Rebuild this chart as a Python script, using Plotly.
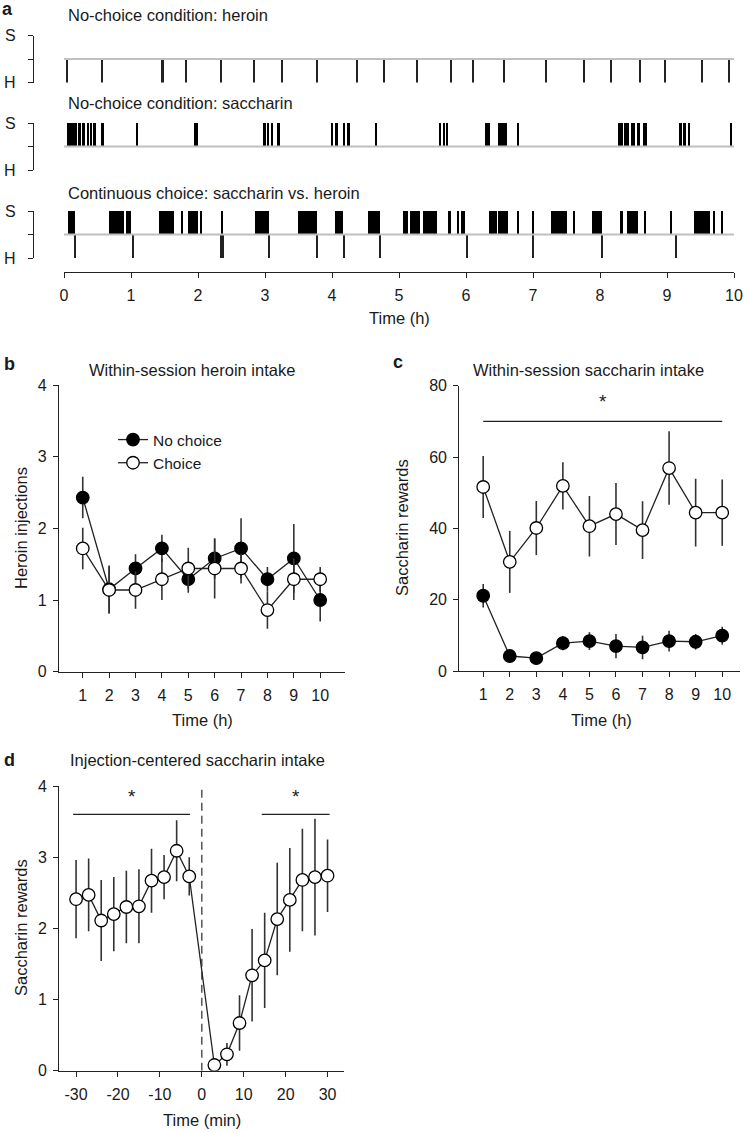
import plotly.graph_objects as go

W, H = 748, 1133


def px(x):
    return x / W


def py(y):
    return 1 - y / H


# ---- panel a: event records of one rat (time in hours) ----
heroin_nochoice = [0.04, 0.56, 1.47, 1.82, 2.35, 2.83, 3.26, 3.77, 4.38, 4.78, 5.27,
                   5.78, 6.10, 6.57, 7.20, 7.76, 8.16, 8.60, 8.97, 9.52, 9.93]

sacch_nochoice_start = [0.04, 0.21, 0.27, 0.34, 0.40, 0.46, 0.55, 1.09, 1.94, 2.97, 3.03,
                        3.10, 3.18, 3.99, 4.04, 4.16, 4.22, 4.64, 5.61, 5.67, 5.72, 6.28,
                        6.48, 6.76, 8.27, 8.36, 8.42, 8.46, 8.55, 8.64, 9.18, 9.24, 9.31, 9.94]
sacch_nochoice_end = [0.19, 0.25, 0.31, 0.37, 0.42, 0.46, 0.60, 1.09, 2.00, 3.01, 3.06,
                      3.12, 3.22, 4.01, 4.09, 4.19, 4.27, 4.67, 5.61, 5.67, 5.72, 6.36,
                      6.61, 6.79, 8.34, 8.40, 8.43, 8.52, 8.60, 8.70, 9.22, 9.28, 9.34, 9.97]

sacch_choice_start = [0.06, 0.67, 0.93, 1.42, 1.76, 1.85, 2.03, 2.34, 2.85, 3.49, 3.76,
                      4.04, 4.54, 5.06, 5.16, 5.36, 5.73, 5.88, 5.93, 6.34, 6.48, 6.78,
                      7.00, 7.27, 7.61, 7.88, 8.30, 8.40, 8.66, 9.06, 9.40, 9.69, 9.82]
sacch_choice_end = [0.16, 0.90, 1.00, 1.64, 1.76, 2.00, 2.06, 2.37, 3.06, 3.75, 3.76,
                    4.16, 4.72, 5.13, 5.31, 5.57, 5.78, 5.90, 5.99, 6.46, 6.63, 6.79,
                    7.00, 7.51, 7.61, 8.03, 8.34, 8.57, 8.69, 9.07, 9.64, 9.72, 9.84]
heroin_choice = [0.16, 1.03, 2.34, 2.38, 3.06, 3.77, 4.18, 4.72, 6.01, 7.00, 8.03, 9.13]

# ---- panel b: heroin injections per hour ----
hours = [1, 2, 3, 4, 5, 6, 7, 8, 9, 10]
b_nochoice = [2.43, 1.15, 1.44, 1.72, 1.29, 1.58, 1.72, 1.29, 1.58, 1.00]
b_nochoice_sem = [0.29, 0.33, 0.20, 0.19, 0.19, 0.28, 0.42, 0.17, 0.48, 0.30]
b_choice = [1.72, 1.14, 1.14, 1.29, 1.44, 1.44, 1.44, 0.86, 1.29, 1.29]
b_choice_sem = [0.29, 0.33, 0.26, 0.29, 0.29, 0.42, 0.21, 0.26, 0.29, 0.17]

# ---- panel c: saccharin rewards per hour ----
c_choice = [51.6, 30.6, 40.1, 51.9, 40.6, 44.0, 39.5, 56.9, 44.4, 44.4]
c_choice_sem = [8.7, 8.7, 7.6, 6.6, 8.5, 8.7, 8.1, 10.3, 9.5, 9.3]
c_nochoice = [21.1, 4.2, 3.6, 7.8, 8.4, 7.0, 6.6, 8.4, 8.2, 9.9]
c_nochoice_sem = [3.3, 1.5, 1.0, 2.0, 2.5, 3.4, 3.3, 2.9, 2.2, 2.5]
c_sig_x = [1, 10]
c_sig_y = 70
c_star_y = 75

# ---- panel d: injection-centered saccharin intake ----
d_minutes = [-30, -27, -24, -21, -18, -15, -12, -9, -6, -3,
             3, 6, 9, 12, 15, 18, 21, 24, 27, 30]
d_mean = [2.41, 2.47, 2.11, 2.20, 2.30, 2.31, 2.67, 2.72, 3.09, 2.73,
          0.08, 0.23, 0.67, 1.34, 1.55, 2.13, 2.40, 2.68, 2.72, 2.74]
d_sem = [0.55, 0.51, 0.57, 0.52, 0.51, 0.52, 0.45, 0.31, 0.43, 0.27,
         0.05, 0.16, 0.39, 0.65, 0.67, 0.79, 0.73, 0.72, 0.82, 0.51]
d_ticks = [-30, -20, -10, 0, 10, 20, 30]
d_sig_left = [-30.7, -2.8]
d_sig_right = [14.3, 30.5]
d_sig_y = 3.6
d_star_y = 3.83

FONT = "Liberation Sans, Arial, sans-serif"
INK = "#1a1a1a"
TXT = 16.5
TICK = 16

fig = go.Figure()


def burst_bars(starts, ends, xa, ya):
    mids = [(s + e) / 2 for s, e in zip(starts, ends)]
    widths = [max(e - s, 0.025) for s, e in zip(starts, ends)]
    return go.Bar(x=mids, y=[1] * len(mids), base=0, width=widths,
                  marker=dict(color="black", line=dict(width=0)),
                  xaxis=xa, yaxis=ya, showlegend=False, hoverinfo="skip")


def tick_bars(times, xa, ya):
    return go.Bar(x=times, y=[-1] * len(times), base=0, width=[0.03] * len(times),
                  marker=dict(color="#222", line=dict(width=0)),
                  xaxis=xa, yaxis=ya, showlegend=False, hoverinfo="skip")


def baseline(xa, ya):
    return go.Scatter(x=[0, 10], y=[0, 0], mode="lines",
                      line=dict(color="#c0c0c0", width=2),
                      xaxis=xa, yaxis=ya, showlegend=False, hoverinfo="skip")


# row 1, 2, 3 of panel a
fig.add_trace(baseline("x", "y"))
fig.add_trace(tick_bars(heroin_nochoice, "x", "y"))
fig.add_trace(baseline("x2", "y2"))
fig.add_trace(burst_bars(sacch_nochoice_start, sacch_nochoice_end, "x2", "y2"))
fig.add_trace(baseline("x3", "y3"))
fig.add_trace(burst_bars(sacch_choice_start, sacch_choice_end, "x3", "y3"))
fig.add_trace(tick_bars(heroin_choice, "x3", "y3"))
# holder for the shared time axis of panel a
fig.add_trace(go.Scatter(x=[0, 10], y=[0, 0], mode="lines", line=dict(width=0),
                         opacity=0, xaxis="x4", yaxis="y4", showlegend=False,
                         hoverinfo="skip"))

ERR = dict(type="data", width=0, thickness=1.6, color="#333")
LINE = dict(color="#222", width=1.3)


def marker(filled):
    return dict(symbol="circle", size=12.5, color="black" if filled else "white",
                line=dict(color="black", width=1.3))


def series(x, y, sem, filled, xa, ya):
    return go.Scatter(
        x=x, y=y, mode="lines+markers", error_y=dict(ERR, array=sem),
        line=LINE, marker=marker(filled),
        xaxis=xa, yaxis=ya, showlegend=False, hoverinfo="skip")


# panel b
fig.add_trace(series(hours, b_nochoice, b_nochoice_sem, True, "x5", "y5"))
fig.add_trace(series(hours, b_choice, b_choice_sem, False, "x5", "y5"))
for name, filled in (("No choice", True), ("Choice", False)):
    fig.add_trace(go.Scatter(x=[None], y=[None], mode="lines+markers", name=name,
                             line=LINE, marker=marker(filled), xaxis="x5", yaxis="y5",
                             showlegend=True))

# panel c
fig.add_trace(go.Scatter(x=c_sig_x, y=[c_sig_y] * 2, mode="lines",
                         line=LINE, xaxis="x6", yaxis="y6",
                         showlegend=False, hoverinfo="skip"))
fig.add_trace(go.Scatter(x=[sum(c_sig_x) / 2], y=[c_star_y], mode="text", text=["*"],
                         textfont=dict(size=19, color=INK, family=FONT),
                         xaxis="x6", yaxis="y6", showlegend=False, hoverinfo="skip"))
fig.add_trace(series(hours, c_nochoice, c_nochoice_sem, True, "x6", "y6"))
fig.add_trace(series(hours, c_choice, c_choice_sem, False, "x6", "y6"))

# panel d
fig.add_trace(go.Scatter(x=[0, 0], y=[0, 4], mode="lines",
                         line=dict(color="#555", width=1.5, dash="8px,5px"),
                         xaxis="x7", yaxis="y7", showlegend=False, hoverinfo="skip"))
for seg in (d_sig_left, d_sig_right):
    fig.add_trace(go.Scatter(x=seg, y=[d_sig_y] * 2, mode="lines",
                             line=LINE, xaxis="x7", yaxis="y7",
                             showlegend=False, hoverinfo="skip"))
    fig.add_trace(go.Scatter(x=[sum(seg) / 2], y=[d_star_y], mode="text", text=["*"],
                             textfont=dict(size=19, color=INK, family=FONT),
                             xaxis="x7", yaxis="y7", showlegend=False, hoverinfo="skip"))
fig.add_trace(series(d_minutes, d_mean, d_sem, False, "x7", "y7"))

AX = dict(showgrid=False, zeroline=False, showline=True, linecolor="#222", linewidth=1.3,
          ticks="outside", ticklen=5, tickwidth=1.3, tickcolor="#222",
          tickfont=dict(size=TICK, color=INK, family=FONT), automargin=False,
          fixedrange=True)
HIDDEN = dict(visible=False, showgrid=False, zeroline=False, range=[0, 10],
              automargin=False, fixedrange=True)

a_dom = [px(64), px(734)]
rows = [(35.5, 82.5), (123, 170), (211, 258)]

layout = dict(
    width=W, height=H, margin=dict(l=0, r=0, t=0, b=0),
    paper_bgcolor="white", plot_bgcolor="rgba(0,0,0,0)",
    font=dict(family=FONT, color=INK, size=TXT),
    barmode="overlay", bargap=0,
    legend=dict(x=px(113), y=py(423), xanchor="left", yanchor="top",
                bgcolor="rgba(0,0,0,0)", font=dict(size=15.5, color=INK, family=FONT),
                tracegroupgap=0),
)

for i, (top, bot) in enumerate(rows, start=1):
    sfx = "" if i == 1 else str(i)
    layout["xaxis" + sfx] = dict(HIDDEN, domain=a_dom, anchor="y" + sfx)
    layout["yaxis" + sfx] = dict(
        AX, domain=[py(bot), py(top)], range=[-1, 1], anchor="free", position=px(33),
        tickvals=[-1, 0, 1], ticktext=["H", "", "S"], ticklabelstandoff=9)

layout["xaxis4"] = dict(AX, domain=a_dom, range=[0, 10], anchor="y4", dtick=1, tick0=0,
                        ticklabelstandoff=4)
layout["yaxis4"] = dict(visible=False, domain=[py(272), py(271)], range=[0, 1],
                        anchor="x4", fixedrange=True)

# panel b axes
layout["xaxis5"] = dict(AX, domain=[px(59), px(345)], range=[0.1, 10.94], anchor="y5",
                        tickvals=hours, ticklabelstandoff=4)
layout["yaxis5"] = dict(AX, domain=[py(671.7), py(385)], range=[0, 4], anchor="x5",
                        dtick=1, ticklabelstandoff=3)
# panel c axes
layout["xaxis6"] = dict(AX, domain=[px(459.3), px(740)], range=[0.1, 10.67], anchor="y6",
                        tickvals=hours, ticklabelstandoff=4)
layout["yaxis6"] = dict(AX, domain=[py(671), py(385.7)], range=[0, 80], anchor="x6",
                        dtick=20, ticklabelstandoff=3)
# panel d axes
layout["xaxis7"] = dict(AX, domain=[px(59.3), px(344.3)], range=[-34, 34], anchor="y7",
                        tickvals=d_ticks, ticktext=[str(t) for t in d_ticks],
                        ticklabelstandoff=4)
layout["yaxis7"] = dict(AX, domain=[py(1070.7), py(786)], range=[0, 4], anchor="x7",
                        dtick=1, ticklabelstandoff=3)


def note(text, x, y, size=TXT, bold=False, xanchor="center", angle=0):
    return dict(text=f"<b>{text}</b>" if bold else text, x=px(x), y=py(y),
                xref="paper", yref="paper", xanchor=xanchor, yanchor="middle",
                showarrow=False, textangle=angle,
                font=dict(size=size, color=INK, family=FONT))


layout["annotations"] = [
    note("a", 8, 9, 18, True),
    note("No-choice condition: heroin", 66, 15, xanchor="left"),
    note("No-choice condition: saccharin", 66, 103, xanchor="left"),
    note("Continuous choice: saccharin vs. heroin", 66, 193, xanchor="left"),
    note("Time (h)", 399, 318),
    note("b", 9, 364, 18, True),
    note("Within-session heroin intake", 192, 370),
    note("Heroin injections", 21, 528, angle=-90),
    note("Time (h)", 203, 720),
    note("c", 398, 362, 18, True),
    note("Within-session saccharin intake", 588, 370),
    note("Saccharin rewards", 402, 528, angle=-90),
    note("Time (h)", 601, 720),
    note("d", 9, 760, 18, True),
    note("Injection-centered saccharin intake", 197, 760),
    note("Saccharin rewards", 21, 928, angle=-90),
    note("Time (min)", 202, 1120),
]

fig.update_layout(**layout)
fig.write_html("out.html", config={"displayModeBar": False},
               post_script="document.body.style.margin='0';"
                           "document.body.style.overflow='hidden';")
